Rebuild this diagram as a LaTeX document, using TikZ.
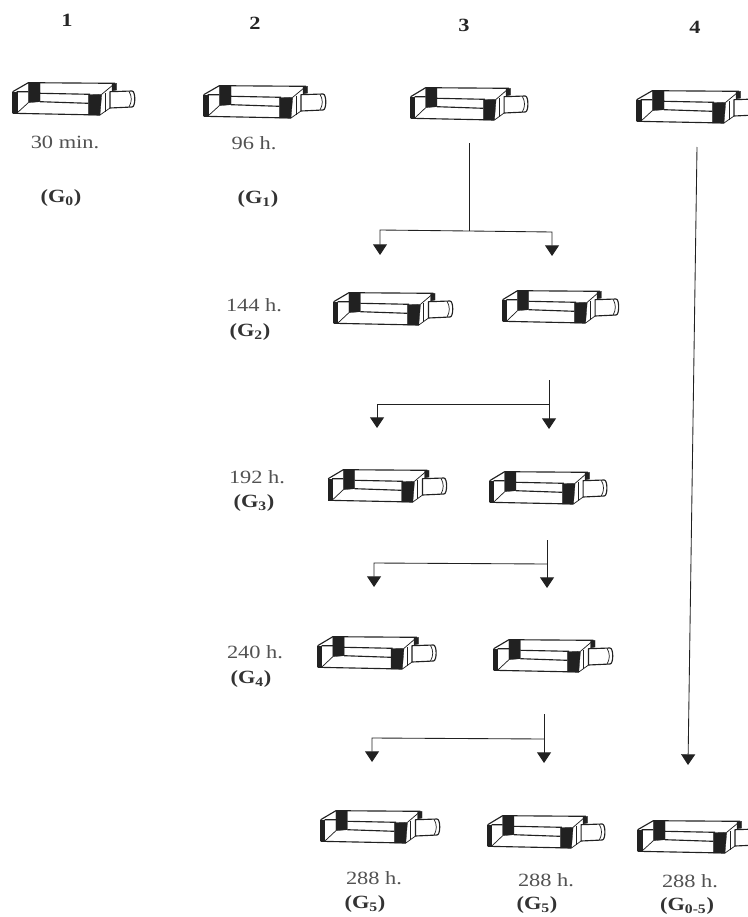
\documentclass[tikz,border=0pt]{standalone}
\usepackage{fontspec}
\setmainfont[FakeStretch=1.2]{Liberation Serif}
\usetikzlibrary{arrows.meta}
\definecolor{ink}{gray}{0.13}
\tikzset{
  x=0.75pt,y=-0.75pt,
  plain/.style={draw=ink,line width=0.85pt,line join=round},
  thin edge/.style={draw=ink,line width=0.55pt,line join=round},
  band/.style={fill=ink,draw=ink,line width=0.2pt},
  link/.style={draw=ink,line width=0.65pt},
  linkhead/.style={link,-{Triangle[width=10.5pt,length=8pt]}},
  time/.style={font=\fontsize{14}{15}\selectfont,text=black!68,inner sep=0pt},
  gen/.style={font=\fontsize{14}{15}\selectfont\bfseries,text=black!80,inner sep=0pt},
  column/.style={font=\fontsize{14}{15}\selectfont\bfseries,text=black!85,inner sep=0pt},
  pics/flask/.style={code={
    \fill[white] (0.7,11.7) -- (16,2.7) -- (103,3.3) -- (104.7,10) -- (123,11.7) -- (123,27) -- (98,28) -- (88,35) -- (0.7,33.3) -- cycle;
    \path[band] (0.7,11.7) -- (4.7,11.7) -- (4.7,33.3) -- (0.7,33.3) -- cycle;
    \path[band] (16.3,3) -- (28,2.5) -- (28,21.7) -- (16.3,22.7) -- cycle;
    \path[band] (76.3,14.6) -- (89.7,14.3) -- (88,35) -- (76.3,35) -- cycle;
    \path[band] (100,3.3) -- (104.7,3.3) -- (104.7,10) -- (100,11) -- cycle;
    \path[plain] (0.7,11.7) -- (16.3,2.7) -- (103,3.3);
    \path[plain] (0.7,33.3) -- (88,35);
    \path[plain] (0.7,11.7) -- (0.7,33.3);
    \path[plain] (4.7,11.7) -- (16.3,11.7) (28,13.3) -- (78,14.3);
    \path[plain] (28,21.7) -- (76.3,23.3);
    \path[thin edge] (4.7,33.3) -- (16.3,22.7);
    \path[thin edge] (89.7,14.3) -- (103,3.3);
    \path[thin edge] (88,35) -- (98,28);
    \path[thin edge] (93,13) -- (93,32);
    \path[plain] (98,11.7) -- (120,11) to[out=0,in=0,looseness=0.6] (120,27) -- (98,28) -- cycle;
    \path[thin edge] (117,11.3) to[out=-60,in=60] (117,27);
  }}
}
\begin{document}
\begin{tikzpicture}
\useasboundingbox (0,0) rectangle (748,917);
\clip (0,0) rectangle (748,917);
% column numbers
\node[column] (c1) at (67,20) {1};
\node[column] (c2) at (255,23) {2};
\node[column] (c3) at (464,25) {3};
\node[column] (c4) at (695,27) {4};
% flasks
\pic (f1) at (12,80) {flask};
\pic (f2) at (203,83) {flask};
\pic[xscale=0.96] (f3) at (410,85) {flask};
\pic (f4) at (636,88) {flask};
\pic[xscale=0.975] (f5) at (333,290) {flask};
\pic[xscale=0.95] (f6) at (502,288) {flask};
\pic[xscale=0.97] (f7) at (327.5,467) {flask};
\pic[xscale=0.96] (f8) at (489,469) {flask};
\pic[xscale=0.97] (f9) at (317,634) {flask};
\pic[xscale=0.975] (f10) at (493,637) {flask};
\pic[xscale=0.975] (f11) at (320,808) {flask};
\pic[xscale=0.96] (f12) at (487,813) {flask};
\pic (f13) at (637,818) {flask};
% labels
\node[time] (t1) at (65,142) {30 min.};
\node[time] (t2) at (254,143) {96 h.};
\node[gen] (g0) at (61,198) {(G\textsubscript{0})};
\node[gen] (g1) at (258,199) {(G\textsubscript{1})};
\node[time] (t3) at (254,305) {144 h.};
\node[gen] (g2) at (250,332) {(G\textsubscript{2})};
\node[time] (t4) at (257,477) {192 h.};
\node[gen] (g3) at (254,503) {(G\textsubscript{3})};
\node[time] (t5) at (255,652) {240 h.};
\node[gen] (g4) at (251,679) {(G\textsubscript{4})};
\node[time] (t6) at (374,878) {288 h.};
\node[gen] (g5) at (365,904) {(G\textsubscript{5})};
\node[time] (t7) at (546,880) {288 h.};
\node[gen] (g5b) at (537,905) {(G\textsubscript{5})};
\node[time] (t8) at (690,881) {288 h.};
\node[gen] (g05) at (687,906) {(G\textsubscript{0-5})};
% connector points
\coordinate (a0) at (469,143); \coordinate (aj) at (469,231);
\coordinate (al) at (380,230); \coordinate (ar) at (552,232);
\coordinate (alt) at (380,255); \coordinate (art) at (552,256);
\coordinate (b0) at (549,380); \coordinate (bj) at (549,404);
\coordinate (bl) at (377,404); \coordinate (blt) at (377,428); \coordinate (brt) at (549,429);
\coordinate (d0) at (547,540); \coordinate (dj) at (547,564);
\coordinate (dl) at (374,563); \coordinate (dlt) at (374,587); \coordinate (drt) at (547,588);
\coordinate (e0) at (544,714); \coordinate (ej) at (544,739);
\coordinate (el) at (372,738); \coordinate (elt) at (372,762); \coordinate (ert) at (544,763);
\coordinate (l0) at (697,147); \coordinate (l1) at (688,765);
% connectors
\draw[link] (a0) -- (aj);
\draw[linkhead] (aj) -- (al) -- (alt);
\draw[linkhead] (aj) -- (ar) -- (art);
\draw[linkhead] (b0) -- (brt);
\draw[linkhead] (bj) -- (bl) -- (blt);
\draw[linkhead] (d0) -- (drt);
\draw[linkhead] (dj) -- (dl) -- (dlt);
\draw[linkhead] (e0) -- (ert);
\draw[linkhead] (ej) -- (el) -- (elt);
\draw[linkhead] (l0) -- (l1);
\end{tikzpicture}
\end{document}
